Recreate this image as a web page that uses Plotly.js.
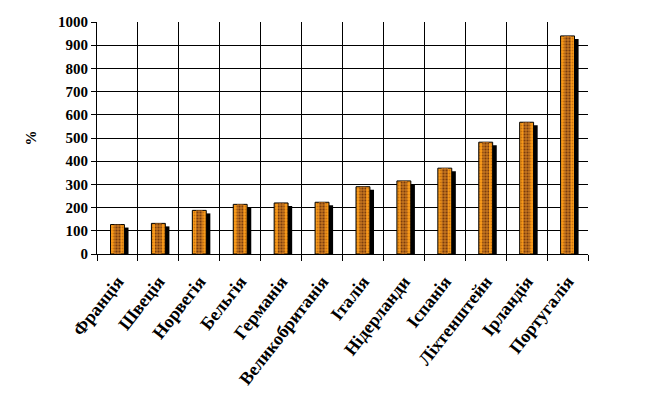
<!DOCTYPE html>
<html>
<head>
<meta charset="utf-8">
<script src="https://cdn.plot.ly/plotly-3.0.1.min.js"></script>
<style>html,body{margin:0;padding:0;background:#fff;}#chart{width:664px;height:401px;}</style>
</head>
<body>
<div id="chart"></div>
<script>
const countries = ["Франція","Швеція","Норвегія","Бельгія","Германія","Великобританія","Італія","Нідерланди","Іспанія","Ліхтенштейн","Ірландія","Португалія"];
const values = [127, 132, 188, 214, 220, 223, 290, 315, 370, 482, 568, 940];
const yTicks = [0,100,200,300,400,500,600,700,800,900,1000];

const fam = "'Liberation Serif', 'Times New Roman', serif";

const shadow = {
  type: "bar", x: countries, y: values, base: -13,
  width: 0.34, offset: -0.07,
  marker: {color: "#000", line: {width: 0}},
  hoverinfo: "skip", showlegend: false
};
const face = {
  type: "bar", x: countries, y: values,
  width: 0.34, offset: -0.17,
  marker: {color: "#FA9C1A", line: {color: "#000", width: 1},
           pattern: {shape: ".", fgcolor: "#C8700E", bgcolor: "#FA9C1A", size: 3, solidity: 0.3}},
  showlegend: false
};
const core = {
  type: "bar", x: countries, y: values,
  width: 0.16, offset: -0.08,
  marker: {color: "#B0621A", line: {width: 0},
           pattern: {shape: ".", fgcolor: "#7A3C0C", bgcolor: "#C4741E", size: 3, solidity: 0.4}},
  showlegend: false
};

const layout = {
  width: 664, height: 401,
  margin: {l: 97, r: 76, t: 22, b: 147, pad: 0},
  paper_bgcolor: "#fff", plot_bgcolor: "#fff",
  barmode: "overlay",
  showlegend: false,
  xaxis: {
    type: "category", tickson: "boundaries",
    showgrid: true, gridcolor: "#000", gridwidth: 1,
    showline: true, linecolor: "#000", linewidth: 1,
    ticks: "outside", ticklen: 6, tickcolor: "#000",
    tickangle: -52, ticklabelstandoff: 9,
    tickfont: {family: fam, size: 18, color: "#000", weight: "bold"},
    fixedrange: true
  },
  yaxis: {
    range: [0, 1000], tickvals: yTicks, ticktext: yTicks.map(String),
    showgrid: true, gridcolor: "#000", gridwidth: 1,
    zeroline: false,
    showline: true, linecolor: "#000", linewidth: 1,
    ticks: "outside", ticklen: 5, tickcolor: "#000",
    tickfont: {family: fam, size: 15, color: "#000", weight: "bold"},
    title: {text: "%", font: {family: fam, size: 15, color: "#000", weight: "bold"}, standoff: 17},
    fixedrange: true
  }
};

Plotly.newPlot("chart", [shadow, face, core], layout, {displayModeBar: false, staticPlot: true});
</script>
</body>
</html>
